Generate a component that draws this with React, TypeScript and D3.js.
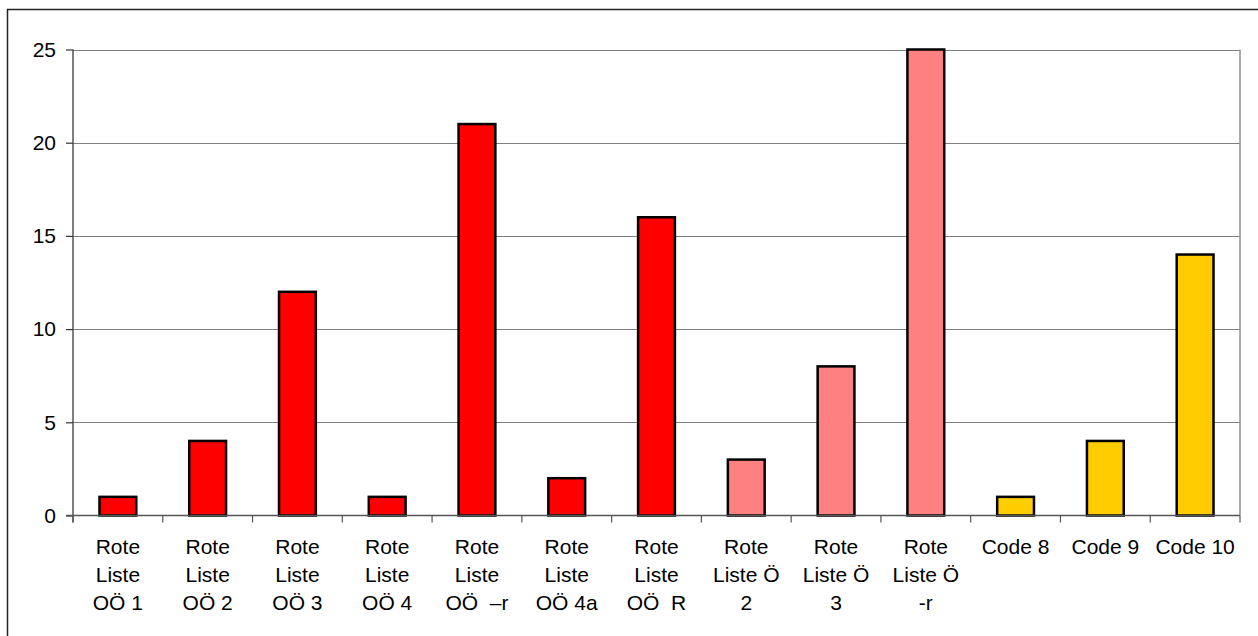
import { useEffect, useRef } from "react";
import * as d3 from "d3";

// category labels as they wrap in the original chart
const labelLines: string[][] = [
  ["Rote", "Liste", "OÖ 1"],
  ["Rote", "Liste", "OÖ 2"],
  ["Rote", "Liste", "OÖ 3"],
  ["Rote", "Liste", "OÖ 4"],
  ["Rote", "Liste", "OÖ  –r"],
  ["Rote", "Liste", "OÖ 4a"],
  ["Rote", "Liste", "OÖ  R"],
  ["Rote", "Liste Ö", "2"],
  ["Rote", "Liste Ö", "3"],
  ["Rote", "Liste Ö", "-r"],
  ["Code 8"],
  ["Code 9"],
  ["Code 10"],
];
const values = [1, 4, 12, 1, 21, 2, 16, 3, 8, 25, 1, 4, 14];
const groups = ["oo", "oo", "oo", "oo", "oo", "oo", "oo", "o", "o", "o", "code", "code", "code"];
const yTicks = [0, 5, 10, 15, 20, 25];

const W = 1258;
const H = 636;
const PLOT = { left: 73, right: 1240, top: 49.5, bottom: 515.5 };
const FONT = "'Liberation Sans', Arial, sans-serif";
const FS = 21;

const groupColor: Record<string, string> = {
  oo: "#FF0000",
  o: "#FF8080",
  code: "#FFCC00",
};

export default function App() {
  const svgRef = useRef<SVGSVGElement | null>(null);

  useEffect(() => {
    const svg = d3.select(svgRef.current);
    svg.selectAll("*").remove();

    const idx = values.map((_, i) => String(i));
    const x = d3.scaleBand<string>().domain(idx).range([PLOT.left, PLOT.right]).padding(0);
    const y = d3.scaleLinear().domain([0, 25]).range([PLOT.bottom, PLOT.top]);

    // outer chart border (runs off the right and bottom of the picture)
    svg
      .append("rect")
      .attr("x", 7.5)
      .attr("y", 9.5)
      .attr("width", W + 10)
      .attr("height", H + 10)
      .attr("fill", "#fff")
      .attr("stroke", "#222")
      .attr("stroke-width", 1.5);

    // gridlines
    svg
      .append("g")
      .selectAll("line")
      .data(yTicks.filter((t) => t > 0))
      .join("line")
      .attr("x1", PLOT.left)
      .attr("x2", PLOT.right)
      .attr("y1", (d) => Math.round(y(d)) + 0.5)
      .attr("y2", (d) => Math.round(y(d)) + 0.5)
      .attr("stroke", "#808080")
      .attr("stroke-width", 1);

    // right border of plot area
    svg
      .append("line")
      .attr("x1", PLOT.right)
      .attr("x2", PLOT.right)
      .attr("y1", PLOT.top)
      .attr("y2", PLOT.bottom)
      .attr("stroke", "#909090")
      .attr("stroke-width", 1.5);

    // bars
    const bw = x.bandwidth() * 0.41;
    svg
      .append("g")
      .selectAll("rect")
      .data(values)
      .join("rect")
      .attr("x", (_, i) => (x(String(i)) ?? 0) + x.bandwidth() / 2 - bw / 2)
      .attr("y", (d) => y(d))
      .attr("width", bw)
      .attr("height", (d) => y(0) - y(d))
      .attr("fill", (_, i) => groupColor[groups[i]])
      .attr("stroke", "#000")
      .attr("stroke-width", 2.5);

    // y axis
    const yAxis = svg.append("g").attr("transform", `translate(${PLOT.left},0)`).call(
      d3.axisLeft(y).tickValues(yTicks).tickSize(7).tickPadding(10)
    );
    yAxis.select(".domain").attr("stroke", "#555").attr("stroke-width", 1.5).attr("d", `M0,${PLOT.top}V${PLOT.bottom + 7}`);
    yAxis.selectAll(".tick line").attr("stroke", "#333").attr("stroke-width", 1.2);
    yAxis
      .selectAll(".tick text")
      .attr("fill", "#000")
      .attr("font-size", FS)
      .attr("font-family", FONT);

    // x axis: baseline plus ticks at category boundaries
    const xg = svg.append("g");
    xg.append("line")
      .attr("x1", PLOT.left - 7)
      .attr("x2", PLOT.right)
      .attr("y1", PLOT.bottom)
      .attr("y2", PLOT.bottom)
      .attr("stroke", "#555")
      .attr("stroke-width", 1.5);
    const bounds = [...idx.map((k) => x(k) ?? 0), PLOT.right];
    xg.selectAll("line.tk")
      .data(bounds)
      .join("line")
      .attr("class", "tk")
      .attr("x1", (d) => d)
      .attr("x2", (d) => d)
      .attr("y1", PLOT.bottom)
      .attr("y2", PLOT.bottom + 7)
      .attr("stroke", "#555")
      .attr("stroke-width", 1.2);

    const labels = xg
      .selectAll("text")
      .data(labelLines)
      .join("text")
      .attr("text-anchor", "middle")
      .attr("font-size", FS)
      .attr("font-family", FONT)
      .attr("fill", "#000");
    labels
      .selectAll("tspan")
      .data((d, i) => d.map((s) => ({ s, i })))
      .join("tspan")
      .attr("x", (d) => (x(String(d.i)) ?? 0) + x.bandwidth() / 2)
      .attr("y", (_, j) => 554 + j * 28)
      .style("white-space", "pre")
      .text((d) => d.s);
  }, []);

  return (
    <svg
      ref={svgRef}
      width={W}
      height={H}
      viewBox={`0 0 ${W} ${H}`}
      style={{ position: "absolute", left: 0, top: 0, background: "#fff" }}
    />
  );
}
